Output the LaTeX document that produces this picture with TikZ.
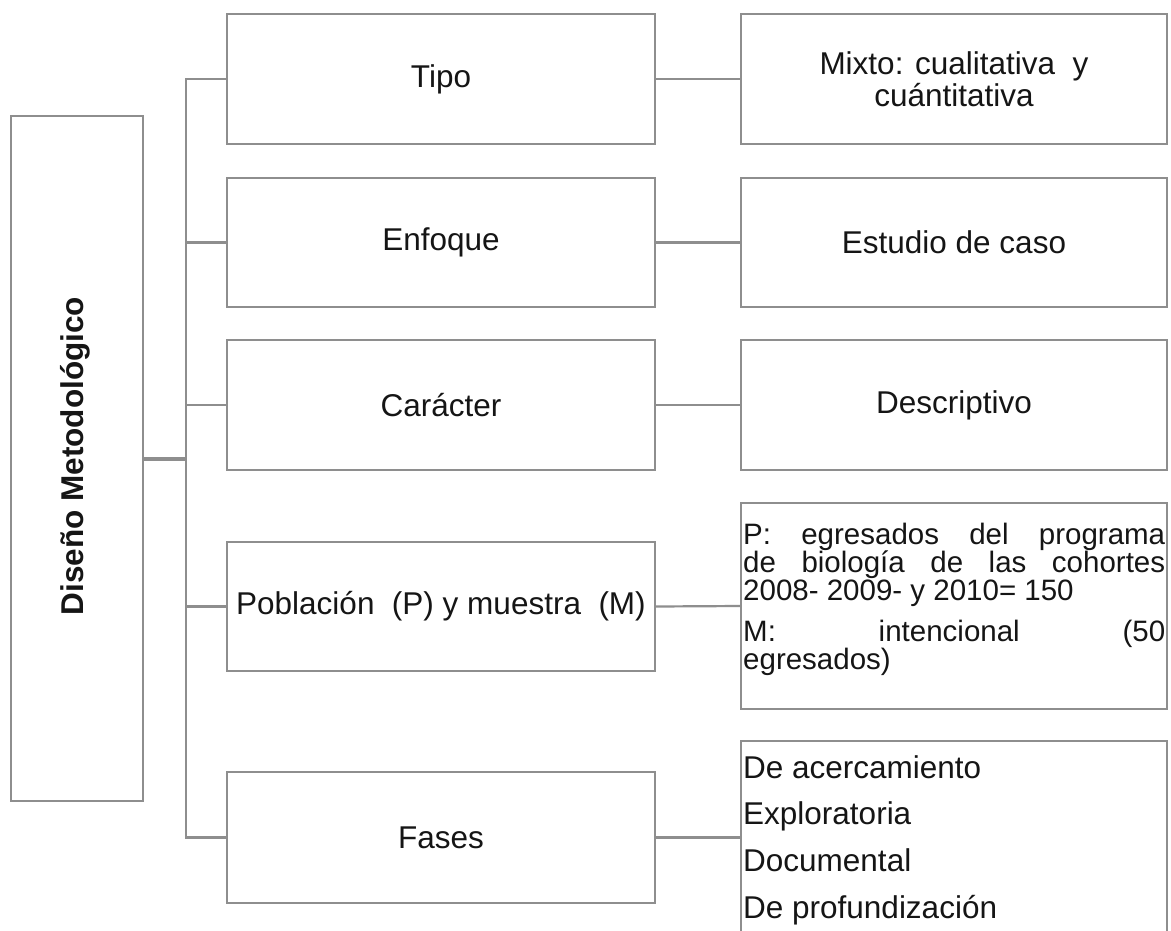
\documentclass[tikz,border=0pt]{standalone}
\usepackage{fontspec}
\setmainfont{Liberation Sans}
\definecolor{linegray}{HTML}{8E8E8E}
\definecolor{textblack}{HTML}{151515}
\newcommand{\mainsz}{\fontsize{31.5}{32}\selectfont}
\newcommand{\pobsz}{\fontsize{29.5}{28}\selectfont}
\begin{document}
\begin{tikzpicture}[x=1pt,y=-1pt,
  box/.style={draw=linegray, line width=2.4pt, inner sep=2pt, align=center, font=\mainsz, text=textblack},
  conn/.style={draw=linegray, line width=2.2pt, line cap=rect},
  txt/.style={inner sep=0pt, font=\mainsz, text=textblack},
  ptxt/.style={inner sep=0pt, font=\pobsz, text=textblack, anchor=base west}]
\clip (0,0) rectangle (1171,930);
\fill[white] (0,0) rectangle (1171,930);
% left box
\node[box, minimum width=132pt, minimum height=685pt] (dm) at (77,458.5) {};
\node[txt, rotate=90, font=\mainsz\bfseries] (dmt) at (75,456) {Diseño Metodológico};
% middle column
\node[box, minimum width=428pt, minimum height=130pt] (tipo) at (441,79) {Tipo};
\node[box, minimum width=428pt, minimum height=129pt] (enfoque) at (441,242.5) {Enfoque};
\node[box, minimum width=428pt, minimum height=130pt] (caracter) at (441,405) {Carácter};
\node[box, minimum width=428pt, minimum height=129pt] (pob) at (441,606.5) {Población\ \ (P) y muestra\ \ (M)};
\node[box, minimum width=428pt, minimum height=131pt] (fases) at (441,837.5) {Fases};
% right column
\node[box, minimum width=426pt, minimum height=130pt] (mixto) at (954,79) {Mixto: cualitativa\ \ y\\cuántitativa};
\node[box, minimum width=426pt, minimum height=129pt] (estudio) at (954,242.5) {Estudio de caso};
\node[box, minimum width=426pt, minimum height=130pt] (desc) at (954,405) {Descriptivo};
\node[box, minimum width=426pt, minimum height=206pt] (pobR) at (954,606) {};
\node[box, minimum width=426pt, minimum height=219pt] (fasesR) at (954,850.5) {};
% text of the population box
\node[ptxt] (p1) at (743,544) {\makebox[422pt][s]{P: egresados del programa}};
\node[ptxt] (p2) at (743,572) {\makebox[422pt][s]{de biología de las cohortes}};
\node[ptxt] (p3) at (743,600) {2008- 2009- y 2010= 150};
\node[ptxt] (p4) at (743,641) {\makebox[422pt][s]{M: intencional (50}};
\node[ptxt] (p5) at (743,669) {egresados)};
% text of the phases box
\node[txt, anchor=base west] (f1) at (743,778) {De acercamiento};
\node[txt, anchor=base west] (f2) at (743,824) {Exploratoria};
\node[txt, anchor=base west] (f3) at (743,871) {Documental};
\node[txt, anchor=base west] (f4) at (743,918) {De profundización};
% connectors
\coordinate (tx) at (186,458.5);
\draw[conn, line width=4pt, line cap=butt] (dm.east) -- (tx);
\draw[conn] (tipo.west -| tx) -- (fases.west -| tx);
\foreach \n in {tipo,enfoque,caracter,pob,fases}
  \draw[conn, line cap=butt] (\n.west -| tx) -- (\n.west);
\draw[conn, line cap=butt] (tipo.east) -- (mixto.west);
\draw[conn, line cap=butt] (enfoque.east) -- (estudio.west);
\draw[conn, line cap=butt] (caracter.east) -- (desc.west);
\draw[conn, line cap=butt] (pob.east) -- (pobR.west);
\draw[conn, line cap=butt] (fases.east) -- (fases.east -| fasesR.west);
\end{tikzpicture}
\end{document}
